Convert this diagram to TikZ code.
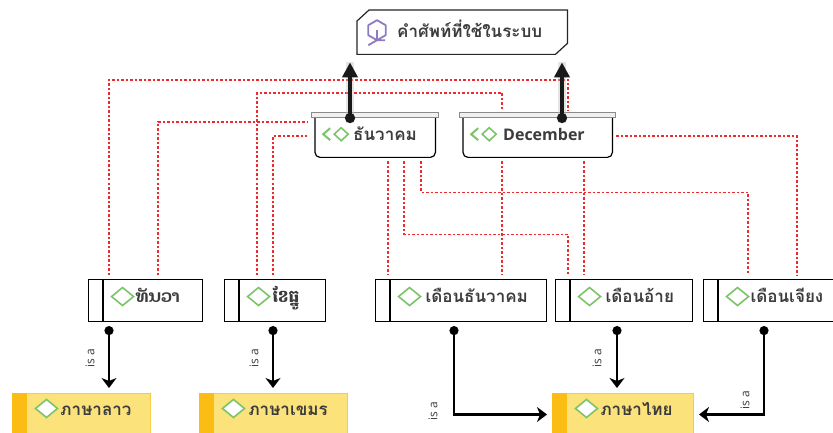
\documentclass[tikz,border=0pt]{standalone}
\usepackage{fontspec}
\setmainfont{Open Sans}
\newfontfamily\latinfont{Open Sans}
\newfontfamily\thaifont[Script=Thai]{Loma}
\newfontfamily\laofont[Script=Lao]{Dhyana}
\newfontfamily\khmerfont[Script=Khmer]{Battambang}
\usetikzlibrary{arrows.meta}

\definecolor{dotred}{HTML}{EE2A2F}
\definecolor{icongreen}{HTML}{7CC46A}
\definecolor{iconpurple}{HTML}{8F7BC4}
\definecolor{langfill}{HTML}{FBE27A}
\definecolor{langedge}{HTML}{F6CD4A}
\definecolor{langstrip}{HTML}{FBBC14}
\definecolor{textgrey}{HTML}{3C3C3C}
\definecolor{barfill}{HTML}{F0F0F0}
\definecolor{baredge}{HTML}{8A8A8A}

\tikzset{
  lbl/.style={text=textgrey, font=\thaifont\bfseries\fontsize{17}{20}\selectfont,
    anchor=north west, inner xsep=0pt, inner ysep=0pt, align=left},
  topic/.style={lbl, text width=210pt, text height=27pt, text depth=17pt},
  concept/.style={lbl, text height=23pt, text depth=17pt},
  word/.style={lbl, draw=black, line width=1.1pt, text height=23pt, text depth=19pt},
  lang/.style={lbl, fill=langfill, draw=langedge, line width=1pt, text height=22pt, text depth=20pt},
  bar/.style={fill=barfill, draw=baredge, line width=0.9pt},
  link/.style={draw=dotred, line width=1.5pt, dash pattern=on 2.5pt off 2pt,
    shorten <=4pt, shorten >=4pt},
  gen/.style={line width=4pt, draw=black!90, {Circle[length=10pt]}-{Triangle[width=15pt,length=15pt]},
    preaction={draw=black!25, line width=8pt, opacity=0.4, -}},
  isa/.style={line width=2.6pt, {Circle[length=9pt]}-{Stealth[length=10pt,width=15pt,inset=3pt]},
    shorten >=5pt},
  isatext/.style={rotate=90, text=textgrey, inner sep=0pt, font=\latinfont\fontsize{12}{14}\selectfont},
  dia/.pic={\draw[draw=icongreen, line width=1.6pt, fill=white]
    (-11,0) -- (0,-9) -- (11,0) -- (0,9) -- cycle;},
  dbl/.pic={\draw[draw=icongreen, line width=2pt] (-5,-6) -- (-12,0) -- (-5,6);
    \draw[draw=icongreen, line width=1.6pt] (-1,0) -- (6,-6.5) -- (13,0) -- (6,6.5) -- cycle;}
}

\begin{document}
\begin{tikzpicture}[x=1pt,y=-1pt]
\path[fill=white,use as bounding box] (0,0) rectangle (833,433);

% nodes
\node[topic] (sys) at (357,10) {\hspace*{40pt}คำศัพท์ที่ใช้ในระบบ};
\node[concept, text width=120pt] (thai) at (315,117) {\hspace*{38pt}ธันวาคม};
\node[concept, text width=149pt] (eng) at (463,117) {\hspace*{40pt}{\latinfont\fontsize{16}{19}\selectfont December}};

\node[word, text width=114pt] (lao) at (88,279) {\hspace*{47pt}{\laofont ທັນວາ}};
\node[word, text width=101pt] (khm) at (224,279) {\hspace*{48pt}{\khmerfont ខែធ្នូ}};
\node[word, text width=171pt] (thdec) at (375,279) {\hspace*{50pt}เดือนธันวาคม};
\node[word, text width=137pt] (thjan) at (555,279) {\hspace*{50pt}เดือนอ้าย};
\node[word, text width=131pt] (thfeb) at (703,279) {\hspace*{47pt}เดือนเจียง};

\node[lang, text width=138pt] (laolang) at (12,393) {\hspace*{48pt}ภาษาลาว};
\node[lang, text width=148pt] (khmlang) at (199,393) {\hspace*{49pt}ภาษาเขมร};
\node[lang, text width=141pt] (thailang) at (552,393) {\hspace*{48pt}ภาษาไทย};

% top box
\draw[line width=1.2pt, draw=black!85] ([yshift=-11pt]sys.north west) -- ([xshift=12pt]sys.north west)
  -- (sys.north east) -- ([yshift=11pt]sys.south east) -- ([xshift=-12pt]sys.south east)
  -- (sys.south west) -- cycle;
\draw[iconpurple, line width=1.8pt, line join=round] ([xshift=20pt,yshift=2pt]sys.west)
  +(90:10) -- +(150:10) -- +(210:10) -- +(270:10) -- +(330:10) -- +(30:10) -- cycle
  +(0,0) -- +(150:10) +(0,0) -- +(0:8) +(0,0) -- +(270:10);

% concepts
\foreach \n in {thai,eng} {
  \draw[line width=1.2pt, rounded corners=5pt] (\n.north west) -- (\n.south west)
    -- (\n.south east) -- (\n.north east);
  \draw[bar] ([xshift=-4pt]\n.north west) rectangle ([xshift=3pt,yshift=5pt]\n.north east);
  \pic at ([xshift=20pt,yshift=6pt]\n.text) {dbl};
}

% words and languages
\foreach \n in {lao,khm,thdec,thjan,thfeb} {
  \draw[line width=1.1pt] ([xshift=15pt]\n.north west) -- ([xshift=15pt]\n.south west);
  \pic at ([xshift=34pt,yshift=6pt]\n.text) {dia};
}
\foreach \n in {laolang,khmlang,thailang} {
  \fill[langstrip] (\n.north west) rectangle ([xshift=15pt]\n.south west);
  \pic at ([xshift=34pt,yshift=7pt]\n.text) {dia};
}

% dotted links
\draw[link, shorten >=1pt] ([xshift=21pt]lao.north west) -- ++(0,-199)
  -| ([xshift=105pt,yshift=5pt]eng.north west);
\draw[link, shorten >=1pt] ([xshift=33pt]khm.north west) -- ++(0,-186)
  -| ([xshift=39pt,yshift=5pt]eng.north west);
\draw[link, shorten >=8pt] ([xshift=70pt]lao.north west) |- ([yshift=-5pt]thai.north west);
\draw[link, shorten >=8pt] ([xshift=49pt]khm.north west) |- ([yshift=-19pt]thai.north west);
\draw[link] ([xshift=73pt]thai.south west) -- ([xshift=13pt]thdec.north west);
\draw[link] ([xshift=89pt]thai.south west) -- ++(0,77) -| ([xshift=13pt]thjan.north west);
\draw[link] ([xshift=106pt]thai.south west) -- ++(0,35) -| ([xshift=45pt]thfeb.north west);
\draw[link] ([xshift=39pt]eng.south west) -- ([xshift=127pt]thdec.north west);
\draw[link] ([xshift=121pt]eng.south west) -- ([xshift=29pt]thjan.north west);
\draw[link] ([yshift=-19pt]eng.north east) -| ([xshift=94pt]thfeb.north west);

% thick arrows to the top box
\coordinate (g1) at ([xshift=35pt,yshift=-6pt]thai.north west);
\coordinate (g2) at ([xshift=99pt,yshift=-6pt]eng.north west);
\draw[gen, shorten >=8pt] (g1) -- (g1 |- sys.south);
\draw[gen, shorten >=8pt] (g2) -- (g2 |- sys.south);

% is a arrows
\coordinate (s1) at ([xshift=21pt,yshift=-4pt]lao.south west);
\coordinate (s2) at ([xshift=49pt,yshift=-4pt]khm.south west);
\coordinate (s3) at ([xshift=79pt,yshift=-4pt]thdec.south west);
\coordinate (s4) at ([xshift=62pt,yshift=-4pt]thjan.south west);
\coordinate (s5) at ([xshift=61pt,yshift=-4pt]thfeb.south west);
\draw[isa] (s1) -- (s1 |- laolang.north);
\draw[isa] (s2) -- (s2 |- khmlang.north);
\draw[isa] (s3) |- (thailang.west);
\draw[isa] (s4) -- (s4 |- thailang.north);
\draw[isa] (s5) |- (thailang.east);
\node[isatext] (t1) at ([xshift=-19pt,yshift=-32pt]s1) {is a};
\node[isatext] (t2) at ([xshift=-19pt,yshift=-32pt]s2) {is a};
\node[isatext] (t3) at ([xshift=-21pt,yshift=-85pt]s3) {is a};
\node[isatext] (t4) at ([xshift=-20pt,yshift=-32pt]s4) {is a};
\node[isatext] (t5) at ([xshift=-19pt,yshift=-74pt]s5) {is a};
\end{tikzpicture}
\end{document}
